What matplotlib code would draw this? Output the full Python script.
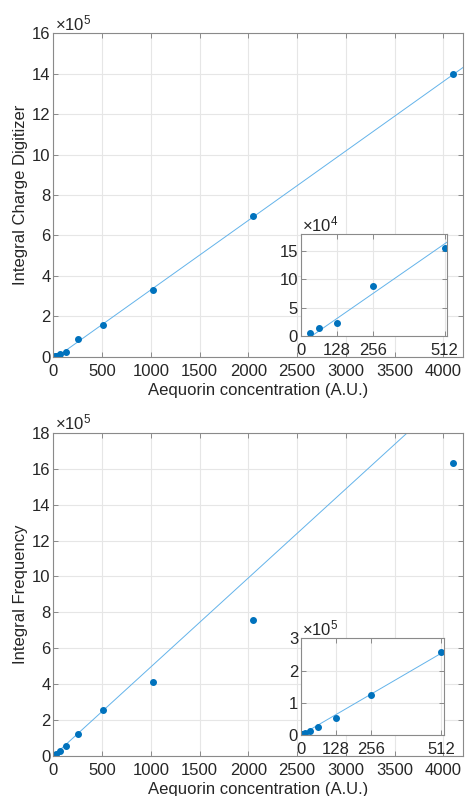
import numpy as np
import matplotlib
matplotlib.use("Agg")
import matplotlib.pyplot as plt
from matplotlib.ticker import FuncFormatter

plt.rcParams['font.family'] = ['Liberation Sans', 'DejaVu Sans']
plt.rcParams['mathtext.fontset'] = 'custom'
plt.rcParams['mathtext.rm'] = 'Liberation Sans'

# charge digitizer measurements
conc_charge = [16, 32, 64, 128, 256, 512, 1024, 2048, 4096]
charge = [3000, 4700, 13500, 23000, 89000, 155000, 332000, 696000, 1399000]
charge_slope = 344.0
charge_x0 = 39.0

# frequency measurements
conc_freq = [4, 8, 16, 32, 64, 128, 256, 512, 1024, 2048, 4096]
freq = [2000, 4000, 7000, 13600, 26000, 54000, 124000, 256000, 414000, 758000, 1630000]
freq_slope = 496.0

dot_col = '#0072BD'
fit_col = '#63b3ea'
txt_col = '#262626'
box_col = '#8a8a8a'
TICK_FS = 12


def style(ax, fs=TICK_FS):
    ax.grid(True, color='#e6e6e6', linewidth=0.8)
    ax.set_axisbelow(True)
    for s in ax.spines.values():
        s.set_color(box_col)
        s.set_linewidth(0.8)
    ax.tick_params(direction='in', top=True, right=True, length=3.5, width=0.7,
                   color=box_col, labelcolor=txt_col, labelsize=fs, pad=2)
    ax.tick_params(axis='x', pad=5)


def scaled(ax, power, fs=TICK_FS):
    ax.yaxis.set_major_formatter(FuncFormatter(lambda v, p: '%g' % (v / 10 ** power)))
    ax.text(0.005, 1.0, r'$\times\mathregular{10^{%d}}$' % power, transform=ax.transAxes,
            ha='left', va='bottom', fontsize=fs, color=txt_col)


fig = plt.figure(figsize=(4.65, 7.96), dpi=100)

panels = [
    (0.552, conc_charge, charge, lambda x: charge_slope * (x - charge_x0), 16e5,
     'Integral Charge Digitizer', 0.578, 0.128, 0.314, 18e4, [0, 5e4, 10e4, 15e4], 4, 32),
    (0.0503, conc_freq, freq, lambda x: freq_slope * x, 18e5,
     'Integral Frequency', 0.0766, 0.1215, 0.307, 3e5, [0, 1e5, 2e5, 3e5], 5, 0),
]

for (bot, xs, ys, fit, ymax, ylab, ib, ih, iw, iymax, iyt, ipow, imin) in panels:
    ax = fig.add_axes([0.1147, bot, 0.881, 0.406])
    style(ax)
    xf = np.linspace(0, 4200, 200)
    ax.plot(xf, fit(xf), color=fit_col, linewidth=0.7)
    ax.plot(xs, ys, 'o', color=dot_col, markersize=4)
    ax.set_xlim(0, 4200)
    ax.set_ylim(0, ymax)
    ax.set_xticks(np.arange(0, 4001, 500))
    ax.set_yticks(np.arange(0, ymax + 1, 2e5))
    scaled(ax, 5)
    ax.set_xlabel('Aequorin concentration (A.U.)', fontsize=12, color=txt_col, labelpad=3)
    ax.set_ylabel(ylab, fontsize=12, color=txt_col, labelpad=3)

    ins = fig.add_axes([0.647, ib, iw, ih])
    style(ins)
    ins.set_facecolor('white')
    xi = np.linspace(0, 520, 100)
    ins.plot(xi, fit(xi), color=fit_col, linewidth=0.7)
    xs_a = np.array(xs)
    ys_a = np.array(ys)
    keep = (xs_a <= 512) & (xs_a >= imin)
    ins.plot(xs_a[keep], ys_a[keep], 'o', color=dot_col, markersize=4)
    ins.set_xlim(0, 520)
    ins.set_ylim(0, iymax)
    ins.set_xticks([0, 128, 256, 512])
    ins.set_yticks(iyt)
    scaled(ins, ipow)

fig.savefig('out.png', dpi=100)
